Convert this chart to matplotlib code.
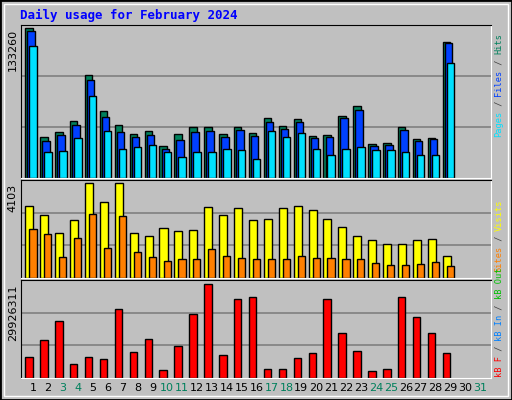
import numpy as np
import matplotlib.pyplot as plt
from matplotlib.patches import Rectangle

days = np.arange(1, 30)
weekend = [3, 4, 10, 11, 17, 18, 24, 25, 31]

# values
hits = np.array([442, 121, 136, 169, 304, 196, 157, 130, 139, 94, 130, 151, 151, 130, 151,
                 133, 175, 154, 172, 124, 127, 181, 211, 100, 103, 151, 115, 118, 403]) / 442 * 133260
files = np.array([433, 109, 127, 157, 289, 178, 136, 121, 127, 85, 112, 136, 139, 121, 142,
                  124, 166, 145, 166, 118, 121, 175, 199, 94, 97, 142, 109, 115, 400]) / 442 * 133260
pages = np.array([391, 76, 79, 118, 241, 139, 85, 91, 97, 76, 61, 76, 76, 85, 82,
                  55, 139, 121, 133, 85, 67, 85, 91, 82, 82, 76, 67, 67, 340]) / 442 * 133260
visits = np.array([210, 183, 132, 168, 276, 222, 276, 132, 123, 147, 138, 141, 207, 183, 204,
                   168, 171, 204, 210, 198, 171, 150, 123, 111, 99, 99, 111, 114, 63]) / 276 * 4103
sites = np.array([144, 129, 60, 117, 186, 87, 180, 75, 60, 51, 54, 54, 84, 63, 57,
                  54, 54, 54, 63, 57, 57, 54, 54, 45, 39, 39, 42, 48, 36]) / 276 * 4103
kbytes = np.array([61, 109, 166, 40, 61, 55, 202, 76, 112, 22, 91, 187, 274, 67, 229,
                   235, 25, 25, 58, 73, 229, 130, 79, 19, 25, 235, 178, 130, 73]) / 274 * 29926311

BG = '#c0c0c0'
C_HITS, C_FILES, C_PAGES = '#00805c', '#0040ff', '#00e0ff'
C_VIS, C_SITES, C_KB = '#ffff00', '#ff8000', '#ff0000'

fig = plt.figure(figsize=(5.12, 4.0), dpi=100, facecolor=BG)
W, H = 512, 400
fig.patches.append(Rectangle((0, 0), 1, 1, transform=fig.transFigure, fill=False,
                             edgecolor='black', linewidth=2))
fig.patches.append(Rectangle((4 / W, 4 / H), 1 - 8 / W, 1 - 8 / H, transform=fig.transFigure,
                             fill=False, edgecolor='white', linewidth=1))


def panel(top, bottom):
    ax = fig.add_axes([20.7 / W, 1 - bottom / H, 470 / W, (bottom - top) / H])
    ax.set_facecolor(BG)
    ax.set_xlim(0.17, 31.7)
    for s in ['left', 'top']:
        ax.spines[s].set_color('black')
    for s in ['right', 'bottom']:
        ax.spines[s].set_color('white')
    ax.set_xticks([])
    return ax


def grid(ax, top):
    ax.set_ylim(0, top)
    for f in (1 / 3, 2 / 3):
        ax.axhline(top * f, color='#808080', linewidth=1.2, zorder=0)


kw = dict(align='edge', edgecolor='black', linewidth=1, zorder=2)

ax1 = panel(24.7, 177.5)
grid(ax1, 133260 * 151 / 147.3)
ax1.bar(days - 0.52, hits, 0.5, color=C_HITS, **kw)
ax1.bar(days - 0.38, files, 0.5, color=C_FILES, **kw)
ax1.bar(days - 0.25, pages, 0.5, color=C_PAGES, **kw)
ax1.set_yticks([133260], ['133260'], rotation=90, va='top', fontsize=8)

ax2 = panel(180, 278)
grid(ax2, 4103 * 286 / 276)
ax2.bar(days - 0.52, visits, 0.54, color=C_VIS, **kw)
ax2.bar(days - 0.25, sites, 0.48, color=C_SITES, **kw)
ax2.set_yticks([4103], ['4103'], rotation=90, va='top', fontsize=8)

ax3 = panel(280, 377.5)
grid(ax3, 29926311 * 286 / 274)
ax3.bar(days - 0.52, kbytes, 0.5, color=C_KB, **kw)
ax3.set_yticks([29926311], ['29926311'], rotation=90, va='top', fontsize=8)

for ax in (ax1, ax2, ax3):
    ax.tick_params(axis='y', length=0, pad=2)

ax3.set_xticks(np.arange(1, 32))
ax3.set_xticklabels([str(d) for d in range(1, 32)], fontsize=8)
ax3.tick_params(axis='x', length=0, pad=4)
for lbl in ax3.get_xticklabels():
    if int(lbl.get_text()) in weekend:
        lbl.set_color(C_HITS)

fig.text(20 / W, 1 - 15 / H, 'Daily usage for February 2024', color='#0000ff',
         family='DejaVu Sans Mono', weight='bold', fontsize=9, va='center')

FS = 6.2
CH = FS * 0.602 * 100 / 72


def side(parts, y_bottom):
    y = y_bottom
    for txt, col in parts:
        fig.text(499 / W, y / H, txt, color=col, rotation=90, family='DejaVu Sans Mono',
                 fontsize=FS, ha='center', va='bottom')
        y += len(txt) * CH


side([('Pages', C_PAGES), (' / ', '#404040'), ('Files', C_FILES), (' / ', '#404040'),
      ('Hits', C_HITS)], 400 - 137)
side([('Sites', C_SITES), (' / ', '#404040'), ('Visits', C_VIS)], 400 - 272)
side([('kB F', C_KB), (' / ', '#404040'), ('kB In', '#0080ff'), (' / ', '#404040'),
      ('kB Out', '#00c000')], 400 - 377)

fig.savefig('out.png', dpi=100, facecolor=BG)
